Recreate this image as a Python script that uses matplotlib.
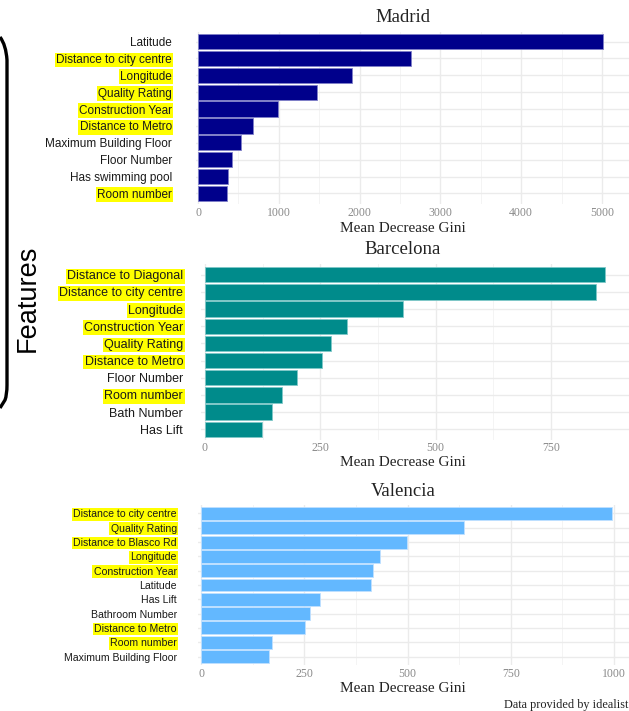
import matplotlib
matplotlib.use("Agg")
import matplotlib.pyplot as plt
from matplotlib.path import Path
from matplotlib.patches import PathPatch

W, H = 629, 711

# Madrid
madrid_features = ["Latitude", "Distance to city centre", "Longitude", "Quality Rating",
                   "Construction Year", "Distance to Metro", "Maximum Building Floor",
                   "Floor Number", "Has swimming pool", "Room number"]
madrid_gini = [5010, 2636, 1900, 1468, 985, 676, 528, 418, 366, 358]
madrid_hl = [False, True, True, True, True, True, False, False, False, True]

# Barcelona
bcn_features = ["Distance to Diagonal", "Distance to city centre", "Longitude",
                "Construction Year", "Quality Rating", "Distance to Metro",
                "Floor Number", "Room number", "Bath Number", "Has Lift"]
bcn_gini = [868, 848, 430, 308, 273, 254, 200, 167, 145, 124]
bcn_hl = [True, True, True, True, True, True, False, True, False, False]

# Valencia
vlc_features = ["Distance to city centre", "Quality Rating", "Distance to Blasco Rd",
                "Longitude", "Construction Year", "Latitude", "Has Lift",
                "Bathroom Number", "Distance to Metro", "Room number",
                "Maximum Building Floor"]
vlc_gini = [995, 637, 498, 433, 417, 412, 287, 263, 251, 173, 165]
vlc_hl = [True, True, True, True, True, False, False, False, True, True, False]

fig = plt.figure(figsize=(W / 100, H / 100), dpi=100)

serif = "Liberation Serif"
sans = "Liberation Sans"
CX = 403  # centre of titles / axis labels, in pixels


def panel(left, top, right, bottom, xlim, xticks, names, vals, hl, color, edge,
          title, lab_size, pad, title_y, tick_y, xlab_y):
    ax = fig.add_axes([left / W, 1 - bottom / H, (right - left) / W, (bottom - top) / H])
    n = len(names)
    ys = list(range(n))
    ax.set_xlim(*xlim)
    ax.set_ylim(n - 0.4, -0.6)
    # grid
    for t in xticks:
        ax.axvline(t, color="#EBEBEB", lw=1.0, zorder=0)
    for a, b in zip(xticks[:-1], xticks[1:]):
        ax.axvline((a + b) / 2, color="#F2F2F2", lw=0.6, zorder=0)
    for y in ys:
        ax.axhline(y, color="#EBEBEB", lw=1.0, zorder=0)
    ax.barh(ys, vals, height=0.9, color=color, edgecolor=edge, linewidth=0.6, zorder=2)
    for s in ax.spines.values():
        s.set_visible(False)
    ax.set_xticks([])
    ax.set_yticks(ys)
    ax.set_yticklabels(names, fontsize=lab_size, family=sans, color="#1a1a1a")
    ax.tick_params(axis="y", length=0, pad=pad)
    for lbl, h in zip(ax.get_yticklabels(), hl):
        if h:
            lbl.set_bbox(dict(facecolor="#FFFF00", edgecolor="none", pad=1.0))
    # tick labels and titles in pixel positions
    for t in xticks:
        fx = (left + (t - xlim[0]) / (xlim[1] - xlim[0]) * (right - left)) / W
        fig.text(fx, 1 - tick_y / H, str(t), ha="center", va="center",
                 family=serif, fontsize=8.5, color="#8a8a8a")
    fig.text(CX / W, 1 - xlab_y / H, "Mean Decrease Gini", ha="center", va="center",
             family=serif, fontsize=11, color="#222222")
    fig.text(CX / W, 1 - title_y / H, title, ha="center", va="center",
             family=serif, fontsize=13.5, color="#222222")
    return ax


panel(195.6, 31.5, 629, 203.5, (-30, 5334), [0, 1000, 2000, 3000, 4000, 5000],
      madrid_features, madrid_gini, madrid_hl, "#00008B", "#8080C8",
      "Madrid", 8.5, 17, 17, 213, 228)

panel(201.3, 264.4, 629, 439.6, (-8, 919), [0, 250, 500, 750],
      bcn_features, bcn_gini, bcn_hl, "#008B8B", "#80C8C8",
      "Barcelona", 9, 13, 250, 448, 463)

panel(197.7, 504.9, 629, 665.1, (-8, 1036), [0, 250, 500, 750, 1000],
      vlc_features, vlc_gini, vlc_hl, "#63B8FF", "#C0E0FF",
      "Valencia", 7.6, 15, 492, 674, 688)

fig.text(628 / W, 1 - 705 / H, "Data provided by idealist", ha="right", va="center",
         family=serif, fontsize=8.8, color="#222222")

# big left bracket with the shared label
pts = [(0, 37), (6, 45), (7, 60), (7, 70), (7, 385), (7, 395), (5, 400), (0, 408)]
verts = [(x / W, 1 - y / H) for x, y in pts]
codes = [Path.MOVETO, Path.CURVE3, Path.CURVE3, Path.LINETO, Path.LINETO,
         Path.CURVE3, Path.CURVE3, Path.LINETO]
fig.patches.append(PathPatch(Path(verts, codes), transform=fig.transFigure,
                             fill=False, lw=2.4, color="black"))
fig.text(28 / W, 1 - 298 / H, "Features", rotation=90, ha="center", va="center",
         family=sans, fontsize=19.5, color="black")

fig.savefig("out.png", dpi=100)
